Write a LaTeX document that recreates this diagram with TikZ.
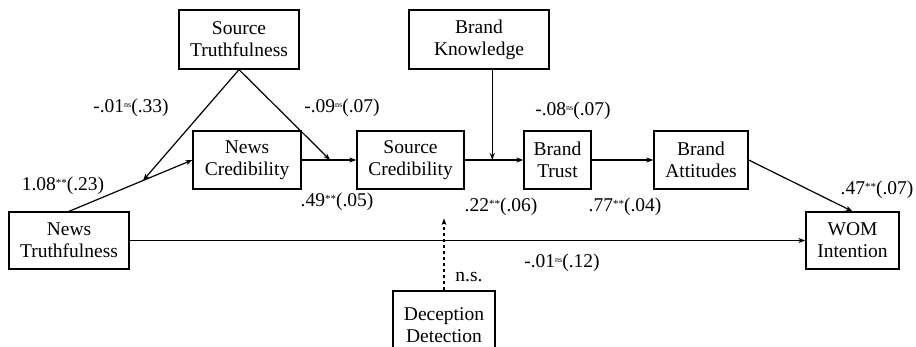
\documentclass[tikz,border=0pt]{standalone}
\usepackage{fontspec}
\setmainfont{Liberation Serif}
\usetikzlibrary{arrows.meta,calc}
\newcommand{\nsup}{\raisebox{0.55ex}{\fontsize{8}{8}\selectfont ns}}
\newcommand{\ssup}{\raisebox{0.45ex}{\fontsize{11}{11}\selectfont **}}
\begin{document}
\begin{tikzpicture}[x=1pt,y=-1pt,
  box/.style={draw,line width=1.3pt,inner sep=0pt,align=center,font=\fontsize{19.5}{22}\selectfont},
  lab/.style={inner sep=0pt,font=\fontsize{19.5}{21}\selectfont},
  conn/.style={line width=1.2pt,-{Stealth[length=7pt,width=5pt]}},
  plain/.style={line width=1pt}]
\useasboundingbox (0,0) rectangle (916,347);
\node[box,minimum width=120pt,minimum height=59pt] (ST) at (239,39.5) {Source\\Truthfulness};
\node[box,minimum width=140pt,minimum height=59pt] (BK) at (479,39.5) {Brand\\Knowledge};
\node[box,minimum width=108pt,minimum height=58pt] (NC) at (247,160) {News\\Credibility};
\node[box,minimum width=107pt,minimum height=58pt] (SC) at (410.5,160) {Source\\Credibility};
\node[box,minimum width=67pt,minimum height=58pt] (BT) at (557.5,160) {Brand\\Trust};
\node[box,minimum width=94pt,minimum height=58pt] (BA) at (701,160) {Brand\\Attitudes};
\node[box,minimum width=120pt,minimum height=57pt] (NT) at (69,240.5) {News\\Truthfulness};
\node[box,minimum width=93pt,minimum height=57pt] (WOM) at (852.5,240.5) {WOM\\Intention};
\node[box,minimum width=102pt,minimum height=68pt] (DD) at (444,325) {Deception\\Detection};

\coordinate (m1) at ($(NT.north)!0.6!(NC.west)$);
\coordinate (m2) at ($(NC.east)!0.52!(SC.west)$);
\coordinate (m3) at ($(SC.east)!0.47!(BT.west)$);
\coordinate (d1) at ([yshift=72pt]DD.north);

\draw[conn] (NT.north) -- (NC.west);
\draw[conn] (ST.south) -- (m1);
\draw[conn] (ST.south) -- (m2);
\draw[conn] (NC.east) -- (SC.west);
\draw[conn] (SC.east) -- (BT.west);
\draw[conn] (BK.south -| m3) -- (m3);
\draw[conn] (BT.east) -- (BA.west);
\draw[conn] (BA.east) -- (WOM.north);
\draw[conn] (NT.east) -- (WOM.west);
\draw[conn,dashed] (DD.north) -- (d1);

\node[lab] (l1) at (131,108) {-.01\nsup(.33)};
\node[lab] (l2) at (342,108) {-.09\nsup(.07)};
\node[lab] (l3) at (63,186) {1.08\ssup(.23)};
\node[lab] (l4) at (337,202) {.49\ssup(.05)};
\node[lab] (l5) at (501,207) {.22\ssup(.06)};
\node[lab] (l6) at (625,207) {.77\ssup(.04)};
\node[lab] (l7) at (877,190) {.47\ssup(.07)};
\node[lab] (l8) at (562,263) {-.01\nsup(.12)};
\node[lab] (l9) at (469,277) {n.s.};
\node[lab] (l10) at (573,111) {-.08\nsup(.07)};
\end{tikzpicture}
\end{document}
